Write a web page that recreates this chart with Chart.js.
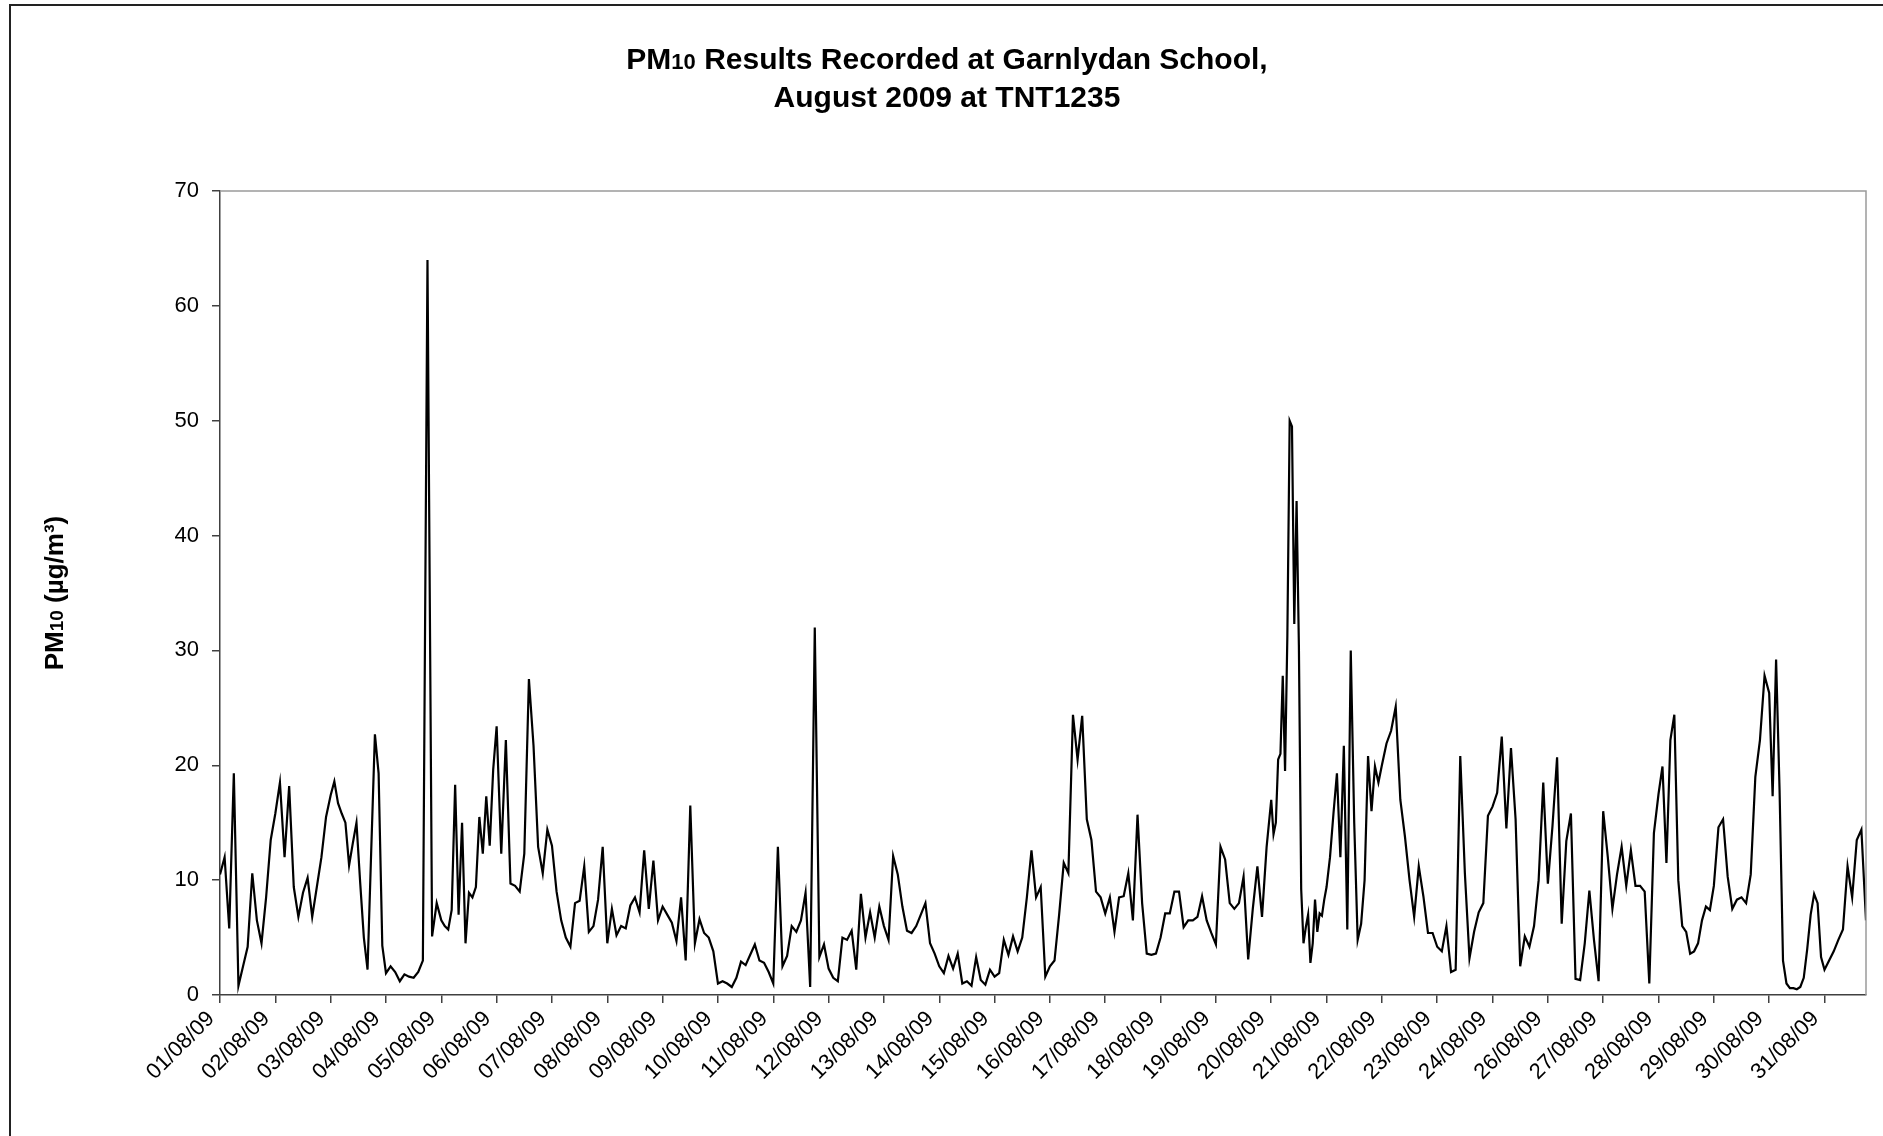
<!DOCTYPE html>
<html lang="en">
<head>
<meta charset="UTF-8">
<title>PM10 Results - Garnlydan School, August 2009</title>
<style>
    body {
        margin: 0;
        background-color: #fff;
        overflow: hidden;
    }
    /* cornice esterna del grafico */
    #frame {
        position: absolute;
        left: 9px;
        top: 4px;
        right: 0;
        bottom: 0;
        border-left: 2px solid #222;
        border-top: 2px solid #222;
    }
    #chart {
        position: absolute;
        left: 0;
        top: 0;
    }
</style>
</head>
<body>
<div id="frame"></div>
<canvas id="chart" width="1883" height="1136"></canvas>

<script src="https://cdn.jsdelivr.net/npm/chart.js"></script>
<script>
    // etichette dei giorni sull'asse x (il 25/08 manca nell'originale)
    var dayLabels = ['01/08/09', '02/08/09', '03/08/09', '04/08/09', '05/08/09', '06/08/09',
                     '07/08/09', '08/08/09', '09/08/09', '10/08/09', '11/08/09', '12/08/09',
                     '13/08/09', '14/08/09', '15/08/09', '16/08/09', '17/08/09', '18/08/09',
                     '19/08/09', '20/08/09', '21/08/09', '22/08/09', '23/08/09', '24/08/09',
                     '26/08/09', '27/08/09', '28/08/09', '29/08/09', '30/08/09', '31/08/09'];

    // valori PM10 (µg/m³), un array per intervallo giornaliero
    var aug01 = [10.5, 12.0, 5.8, 19.3, 0.8, 2.5, 4.2, 10.6, 6.5, 4.5, 8.5, 13.5];
    var aug02 = [15.8, 18.5, 12.0, 18.2, 9.4, 6.8, 8.9, 10.2, 6.8, 9.4, 12.0, 15.5];
    var aug03 = [17.4, 18.6, 16.7, 15.8, 15.0, 11.3, 13.2, 15.0, 9.8, 5.0, 2.2, 12.6, 22.7, 19.3, 4.3];
    var aug04 = [1.9, 2.5, 2.0, 1.2, 1.8, 1.6, 1.5, 2.0, 3.0, 64.0, 5.1, 8.0];
    var aug05 = [6.5, 6.0, 5.7, 7.4, 18.3, 7.0, 15.0, 4.5, 8.9, 8.5, 9.4, 15.5, 12.3, 17.3, 13.0, 19.6];
    var aug06 = [23.4, 12.3, 22.2, 9.7, 9.5, 9.0, 12.3, 27.5, 21.7, 12.9, 10.6, 14.4];
    var aug07 = [13.0, 9.0, 6.5, 5.0, 4.2, 8.0, 8.2, 11.2, 5.5, 6.0, 8.3, 12.9];
    var aug08 = [4.5, 7.5, 5.2, 6.0, 5.8, 7.8, 8.5, 7.2, 12.6, 7.5, 11.7, 6.5];
    var aug09 = [7.7, 7.0, 6.3, 4.7, 8.5, 3.0, 16.5, 4.5, 6.6, 5.4, 5.0, 3.8];
    var aug10 = [1.0, 1.2, 1.0, 0.7, 1.5, 2.9, 2.6, 3.5, 4.4, 3.0, 2.8, 2.0];
    var aug11 = [1.0, 12.9, 2.5, 3.4, 6.0, 5.5, 6.5, 8.9, 0.7, 32.0, 3.3, 4.4];
    var aug12 = [2.3, 1.5, 1.2, 5.0, 4.8, 5.6, 2.2, 8.8, 5.0, 7.2, 5.0, 7.7];
    var aug13 = [6.0, 4.8, 12.1, 10.5, 7.7, 5.6, 5.4, 6.0, 7.0, 8.0, 4.5, 3.6];
    var aug14 = [2.5, 1.9, 3.4, 2.3, 3.6, 1.0, 1.2, 0.8, 3.3, 1.3, 0.9, 2.2];
    var aug15 = [1.6, 1.9, 4.8, 3.5, 5.1, 3.8, 5.0, 8.5, 12.6, 8.5, 9.4, 1.6];
    var aug16 = [2.5, 3.0, 7.0, 11.5, 10.6, 24.4, 20.5, 24.3, 15.3, 13.5, 9.0, 8.5];
    var aug17 = [7.1, 8.5, 5.5, 8.5, 8.6, 10.6, 6.5, 15.7, 8.0, 3.6, 3.5, 3.6];
    var aug18 = [5.0, 7.1, 7.1, 9.0, 9.0, 5.9, 6.5, 6.5, 6.8, 8.6, 6.5, 5.4];
    var aug19 = [4.4, 12.9, 11.8, 8.0, 7.5, 8.0, 10.3, 3.1, 7.5, 11.2, 6.8, 12.9];
    var aug20 = [17.0, 14.0, 15.0, 20.5, 21.0, 27.8, 19.5, 31.3, 50.0, 49.5, 32.3, 43.0,
                 30.4, 9.2, 4.5, 5.9, 7.0, 2.8, 4.5, 8.3, 5.5, 7.1, 6.9, 8.3];
    var aug21 = [9.4, 12.0, 15.8, 19.3, 12.0, 21.7, 5.7, 30.0, 15.0, 4.8, 6.2, 10.0, 20.8, 16.0, 19.9, 18.5];
    var aug22 = [20.0, 21.9, 23.0, 25.1, 17.0, 13.8, 10.0, 6.8, 11.2, 8.6, 5.4, 5.4];
    var aug23 = [4.2, 3.8, 6.0, 2.0, 2.2, 20.8, 10.6, 3.2, 5.5, 7.2, 8.0, 15.6];
    var aug24 = [16.4, 17.6, 22.5, 14.5, 21.5, 15.3, 2.5, 5.1, 4.2, 6.0, 10.0, 18.5];
    var aug26 = [9.7, 14.7, 20.7, 6.2, 13.4, 15.8, 1.4, 1.3, 4.5, 9.1, 4.8, 1.2];
    var aug27 = [16.0, 12.0, 7.5, 10.5, 12.9, 9.5, 12.6, 9.5, 9.5, 9.0, 1.0, 14.1];
    var aug28 = [17.5, 19.9, 11.5, 22.2, 24.4, 10.0, 6.0, 5.5, 3.6, 3.8, 4.5, 6.5, 7.7, 7.4];
    var aug29 = [9.5, 14.6, 15.3, 10.3, 7.5, 8.3, 8.5, 8.0, 10.5, 19.0, 22.2, 27.8];
    var aug30 = [26.3, 17.3, 29.2, 17.9, 3.0, 1.0, 0.6, 0.6, 0.5, 0.7, 1.5, 4.0, 7.0, 8.8, 8.0, 3.3];
    var aug31 = [2.2, 3.0, 3.8, 4.8, 5.7, 11.2, 8.5, 13.5, 14.4, 6.5];   // giorno incompleto

    var days = [aug01, aug02, aug03, aug04, aug05, aug06, aug07, aug08, aug09, aug10,
                aug11, aug12, aug13, aug14, aug15, aug16, aug17, aug18, aug19, aug20,
                aug21, aug22, aug23, aug24, aug26, aug27, aug28, aug29, aug30, aug31];

    var yTicks = [0, 10, 20, 30, 40, 50, 60, 70];

    // ogni giorno occupa un intervallo unitario dell'asse x
    var points = [];
    days.forEach(function(vals, k) {
        var step = (k === days.length - 1) ? 1 / 12 : 1 / vals.length;
        vals.forEach(function(v, i) {
            points.push({ x: k + i * step, y: v });
        });
    });
    var xMax = (days.length - 1) + (aug31.length - 1) / 12;

    var FONT = "'Liberation Sans', Arial, Helvetica, sans-serif";
    Chart.defaults.font.family = FONT;
    Chart.defaults.color = '#000';

    // scrive un testo con parti di dimensione diversa (es. il "10" di PM10)
    function drawMixed(ctx, parts, cx, baseline) {
        var total = 0;
        parts.forEach(function(p) {
            ctx.font = 'bold ' + p[1] + 'px ' + FONT;
            total += ctx.measureText(p[0]).width;
        });
        var x = cx - total / 2;
        parts.forEach(function(p) {
            ctx.font = 'bold ' + p[1] + 'px ' + FONT;
            ctx.fillText(p[0], x, baseline);
            x += ctx.measureText(p[0]).width;
        });
    }

    var titlesPlugin = {
        id: 'titles',
        afterDraw: function(chart) {
            var ctx = chart.ctx;
            var a = chart.chartArea;
            ctx.save();
            // bordo superiore e destro dell'area del grafico
            ctx.strokeStyle = '#9a9a9a';
            ctx.lineWidth = 1.5;
            ctx.beginPath();
            ctx.moveTo(a.left, a.top);
            ctx.lineTo(a.right, a.top);
            ctx.lineTo(a.right, a.bottom);
            ctx.stroke();

            ctx.fillStyle = '#000';
            ctx.textAlign = 'left';
            ctx.textBaseline = 'alphabetic';
            drawMixed(ctx, [['PM', 30], ['10', 22], [' Results Recorded at Garnlydan School,', 30]], 947, 69);
            drawMixed(ctx, [['August 2009 at TNT1235', 30]], 947, 107);

            ctx.translate(63, 593);
            ctx.rotate(-Math.PI / 2);
            drawMixed(ctx, [['PM', 26], ['10', 19], [' (µg/m³)', 26]], 0, 0);
            ctx.restore();
        }
    };

    var ctx = document.getElementById('chart').getContext('2d');
    new Chart(ctx, {
        type: 'line',
        data: {
            datasets: [{
                label: 'PM10',
                data: points,
                borderColor: '#000',
                borderWidth: 2.2,
                pointRadius: 0,
                tension: 0,
                fill: false
            }]
        },
        options: {
            responsive: false,
            animation: false,
            devicePixelRatio: 1,
            layout: {
                padding: { top: 191, right: 17, bottom: 0, left: 0 }
            },
            plugins: {
                legend: { display: false },
                tooltip: { enabled: false },
                title: { display: false }
            },
            scales: {
                x: {
                    type: 'linear',
                    min: 0,
                    max: xMax,
                    afterFit: function(scale) { scale.height = 141; },
                    ticks: {
                        stepSize: 1,
                        includeBounds: false,
                        autoSkip: false,
                        minRotation: 45,
                        maxRotation: 45,
                        padding: 3,
                        labelOffset: -9,
                        color: '#000',
                        font: { size: 22 },
                        callback: function(value) {
                            return Number.isInteger(value) ? dayLabels[value] : '';
                        }
                    },
                    grid: {
                        drawOnChartArea: false,
                        drawTicks: true,
                        tickLength: 8,
                        color: '#404040',
                        lineWidth: 1.5
                    },
                    border: { color: '#404040', width: 1.5 }
                },
                y: {
                    min: 0,
                    max: 70,
                    afterFit: function(scale) { scale.width = 220; },
                    afterBuildTicks: function(scale) {
                        scale.ticks = yTicks.map(function(v) { return { value: v }; });
                    },
                    ticks: {
                        padding: 13,
                        color: '#000',
                        font: { size: 22 }
                    },
                    grid: {
                        drawOnChartArea: false,
                        drawTicks: true,
                        tickLength: 8,
                        color: '#404040',
                        lineWidth: 1.5
                    },
                    border: { color: '#404040', width: 1.5 }
                }
            }
        },
        plugins: [titlesPlugin]
    });
</script>
</body>
</html>
